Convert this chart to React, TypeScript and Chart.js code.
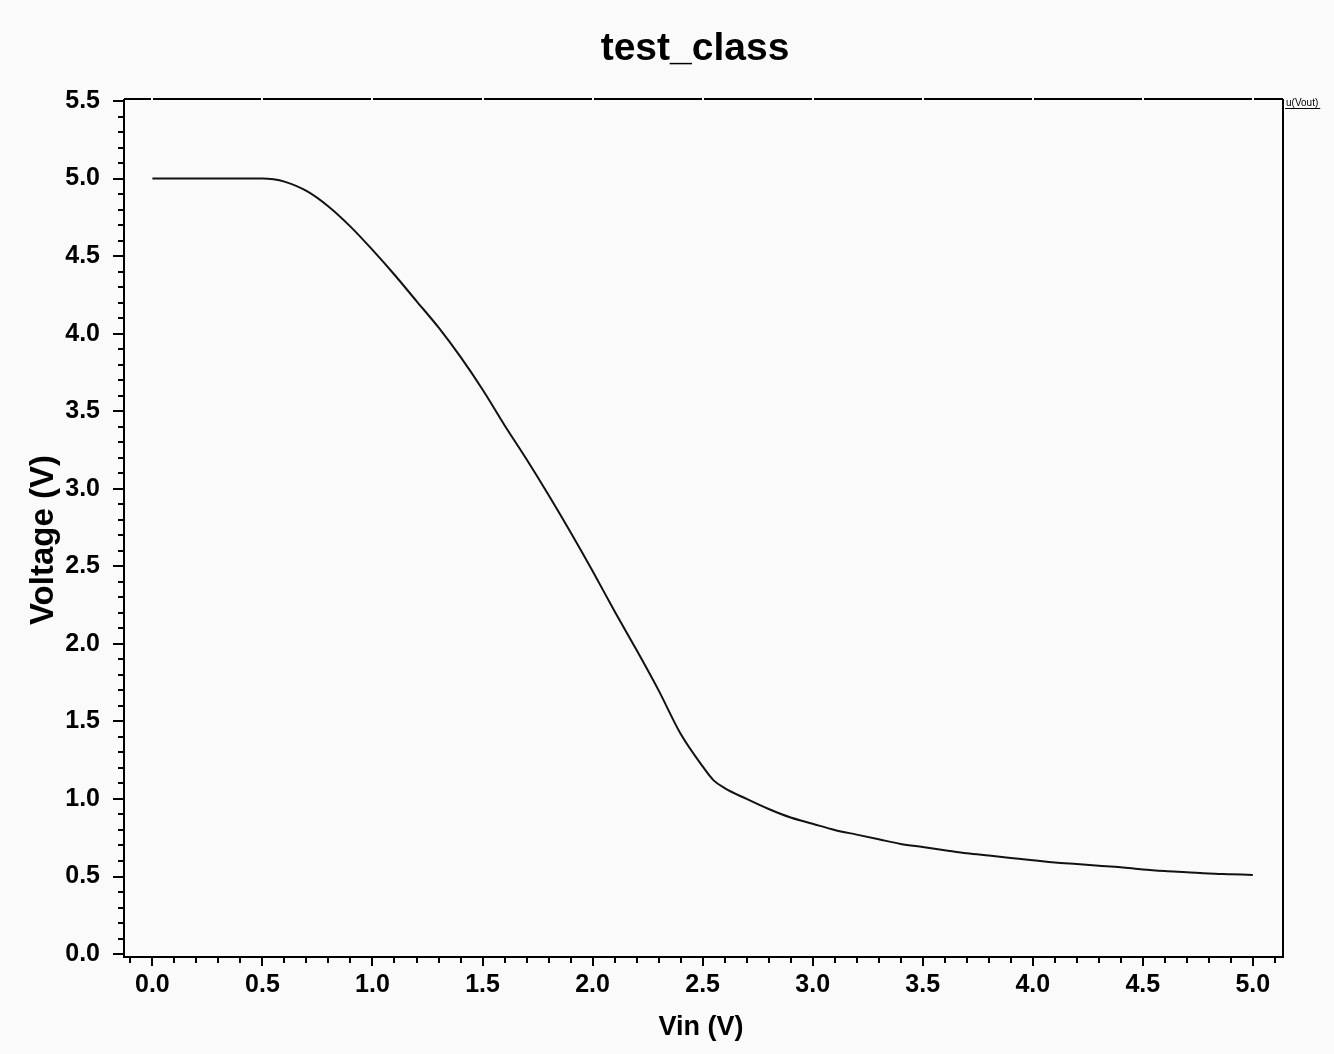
import React, { useEffect, useRef } from "react";
import { Chart, registerables } from "chart.js";

Chart.register(...registerables);

const TITLE = "test_class";
const X_LABEL = "Vin (V)";
const Y_LABEL = "Voltage (V)";
const SERIES_NAME = "u(Vout)";

const vin = [
  0.0, 0.1, 0.2, 0.3, 0.4, 0.5, 0.55, 0.6, 0.7, 0.8, 0.9,
  1.0, 1.1, 1.2, 1.3, 1.4, 1.5, 1.6, 1.7, 1.8, 1.9,
  2.0, 2.1, 2.2, 2.3, 2.4, 2.5, 2.55, 2.6, 2.7, 2.8, 2.9,
  3.0, 3.1, 3.2, 3.3, 3.4, 3.5, 3.6, 3.7, 3.8, 3.9,
  4.0, 4.1, 4.2, 4.3, 4.4, 4.5, 4.6, 4.7, 4.8, 4.9, 5.0,
];
const vout = [
  5.0, 5.0, 5.0, 5.0, 5.0, 5.0, 4.995, 4.98, 4.92, 4.82, 4.69,
  4.54, 4.38, 4.21, 4.04, 3.85, 3.64, 3.41, 3.19, 2.96, 2.72,
  2.47, 2.21, 1.96, 1.7, 1.42, 1.21, 1.12, 1.07, 1.0, 0.935, 0.88,
  0.84, 0.8, 0.77, 0.74, 0.71, 0.69, 0.67, 0.65, 0.635, 0.62,
  0.605, 0.59, 0.58, 0.57, 0.56, 0.545, 0.535, 0.528, 0.52, 0.515, 0.51,
];

const xMajorTicks = [0.0, 0.5, 1.0, 1.5, 2.0, 2.5, 3.0, 3.5, 4.0, 4.5, 5.0];
const yMajorTicks = [0.0, 0.5, 1.0, 1.5, 2.0, 2.5, 3.0, 3.5, 4.0, 4.5, 5.0, 5.5];
const X_MIN = -0.129;
const X_MAX = 5.137;
const Y_MIN = -0.019;
const Y_MAX = 5.513;
const MINOR_STEP = 0.1;

const FONT = '"Liberation Sans", Arial, Helvetica, sans-serif';

function minorTicks(min: number, max: number, majors: number[]) {
  const out: number[] = [];
  const start = Math.ceil(min / MINOR_STEP);
  const end = Math.floor(max / MINOR_STEP);
  for (let i = start; i <= end; i++) {
    const v = Math.round(i * MINOR_STEP * 10) / 10;
    if (!majors.some((m) => Math.abs(m - v) < 1e-6)) out.push(v);
  }
  return out;
}

const decorPlugin = {
  id: "decor",
  beforeDraw(chart: any) {
    const { ctx, width, height } = chart;
    ctx.save();
    ctx.fillStyle = "#fafafa";
    ctx.fillRect(0, 0, width, height);
    ctx.restore();
  },
  afterDraw(chart: any) {
    const { ctx, chartArea, scales } = chart;
    const xs = scales.x;
    const ys = scales.y;
    const { left, right, top, bottom } = chartArea;
    ctx.save();
    ctx.strokeStyle = "#000";
    ctx.lineWidth = 2;
    ctx.lineCap = "butt";

    ctx.beginPath();
    ctx.moveTo(left, top);
    ctx.lineTo(left, bottom);
    ctx.lineTo(right, bottom);
    ctx.lineTo(right, top);
    ctx.stroke();

    const gaps = xMajorTicks.map((v) => Math.round(xs.getPixelForValue(v)));
    let cur = left;
    ctx.beginPath();
    for (const g of gaps) {
      ctx.moveTo(cur, top);
      ctx.lineTo(g - 1, top);
      cur = g + 1;
    }
    ctx.moveTo(cur, top);
    ctx.lineTo(right, top);
    ctx.stroke();

    ctx.beginPath();
    for (const v of yMajorTicks) {
      const p = Math.round(ys.getPixelForValue(v));
      ctx.moveTo(left - 11, p);
      ctx.lineTo(left, p);
    }
    for (const v of minorTicks(Y_MIN, Y_MAX, yMajorTicks)) {
      const p = Math.round(ys.getPixelForValue(v));
      ctx.moveTo(left - 6, p);
      ctx.lineTo(left, p);
    }
    for (const v of xMajorTicks) {
      const p = Math.round(xs.getPixelForValue(v));
      ctx.moveTo(p, bottom);
      ctx.lineTo(p, bottom + 9);
    }
    for (const v of minorTicks(X_MIN, X_MAX, xMajorTicks)) {
      const p = Math.round(xs.getPixelForValue(v));
      ctx.moveTo(p, bottom);
      ctx.lineTo(p, bottom + 6);
    }
    ctx.stroke();

    ctx.fillStyle = "#000";
    ctx.textAlign = "center";
    ctx.textBaseline = "alphabetic";
    ctx.font = `bold 39px ${FONT}`;
    ctx.fillText(TITLE, 695, 60);

    ctx.font = `bold 27px ${FONT}`;
    ctx.fillText(X_LABEL, 701, 1035);

    ctx.save();
    ctx.translate(53, 540);
    ctx.rotate(-Math.PI / 2);
    ctx.font = `bold 33px ${FONT}`;
    ctx.fillText(Y_LABEL, 0, 0);
    ctx.restore();

    ctx.font = `10px ${FONT}`;
    ctx.textAlign = "left";
    ctx.fillText(SERIES_NAME, right + 3, top + 7);
    const w = ctx.measureText(SERIES_NAME).width;
    ctx.lineWidth = 1;
    ctx.beginPath();
    ctx.moveTo(right + 2, top + 9.5);
    ctx.lineTo(right + 5 + w, top + 9.5);
    ctx.stroke();

    ctx.restore();
  },
};

export default function App() {
  const ref = useRef<HTMLCanvasElement | null>(null);

  useEffect(() => {
    if (!ref.current) return;
    const data = vin.map((x, i) => ({ x, y: vout[i] }));
    const labelCb = (v: any) => Number(v).toFixed(1);
    const chart = new Chart(ref.current, {
      type: "line",
      data: {
        datasets: [
          {
            label: SERIES_NAME,
            data,
            borderColor: "#111",
            borderWidth: 2,
            pointRadius: 0,
            cubicInterpolationMode: "monotone",
            fill: false,
          },
        ],
      },
      options: {
        animation: false,
        responsive: false,
        devicePixelRatio: 1,
        layout: { padding: { left: 0, top: 99, right: 51, bottom: 0 } },
        plugins: {
          legend: { display: false },
          title: { display: false },
          tooltip: { enabled: false },
        },
        scales: {
          x: {
            type: "linear",
            min: X_MIN,
            max: X_MAX,
            afterBuildTicks: (s: any) => {
              s.ticks = xMajorTicks.map((v) => ({ value: v }));
            },
            afterFit: (s: any) => {
              s.height = 97;
            },
            grid: {
              display: true,
              drawOnChartArea: false,
              drawTicks: true,
              tickLength: 9,
              tickColor: "rgba(0,0,0,0)",
            },
            border: { display: false },
            ticks: {
              autoSkip: false,
              maxRotation: 0,
              padding: 4,
              color: "#000",
              font: { family: FONT, size: 25, weight: "bold" },
              callback: labelCb,
            },
          },
          y: {
            type: "linear",
            min: Y_MIN,
            max: Y_MAX,
            afterBuildTicks: (s: any) => {
              s.ticks = yMajorTicks.map((v) => ({ value: v }));
            },
            afterFit: (s: any) => {
              s.width = 124;
            },
            grid: {
              display: true,
              drawOnChartArea: false,
              drawTicks: true,
              tickLength: 11,
              tickColor: "rgba(0,0,0,0)",
            },
            border: { display: false },
            ticks: {
              autoSkip: false,
              padding: 13,
              color: "#000",
              font: { family: FONT, size: 25, weight: "bold" },
              callback: labelCb,
            },
          },
        },
      },
      plugins: [decorPlugin],
    });
    return () => chart.destroy();
  }, []);

  return (
    <div
      style={{
        position: "absolute",
        left: 0,
        top: 0,
        width: 1334,
        height: 1054,
        background: "#fafafa",
      }}
    >
      <canvas ref={ref} width={1334} height={1054} style={{ display: "block" }} />
    </div>
  );
}
